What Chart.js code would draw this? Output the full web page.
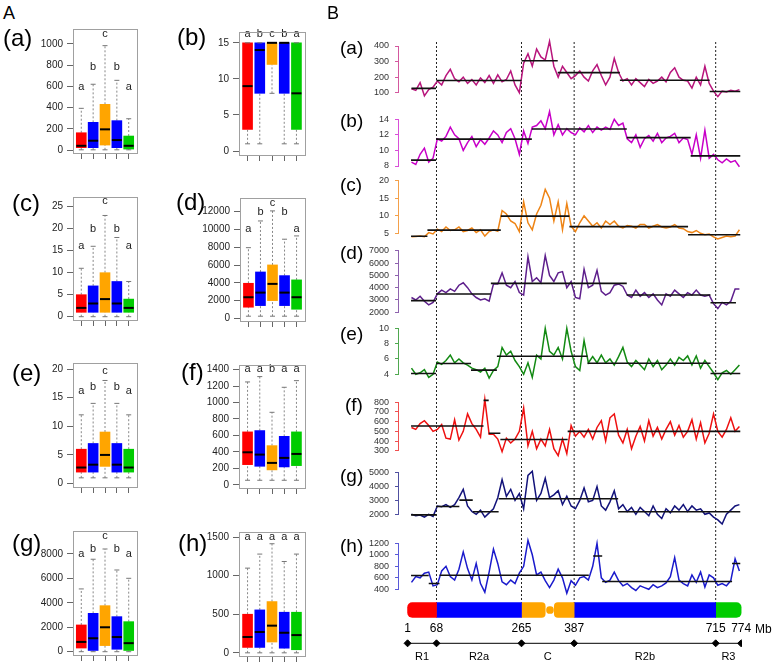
<!DOCTYPE html>
<html>
<head>
<meta charset="utf-8">
<script src="https://cdn.jsdelivr.net/npm/chart.js@4.4.1/dist/chart.umd.min.js"></script>
<style>
body { margin: 0; background: #fff; width: 778px; height: 663px; overflow: hidden; position: relative; font-family: "Liberation Sans", Arial, sans-serif; }
.lbl { position: absolute; color: #000; line-height: 1; white-space: nowrap; z-index: 5; }
</style>
</head>
<body>
<script>
// ---------- A: box plots (red R1, blue R2a, orange C, blue R2b, green R3) ----------
const boxColors = ['#ff0000', '#0000ff', '#ffa500', '#0000ff', '#00cc00'];

const aTicks = [0, 200, 400, 600, 800, 1000];
const aLow = [2, 2, 2, 2, 2], aQ1 = [22, 22, 47, 22, 9], aMed = [40, 88, 195, 94, 40];
const aQ3 = [163, 261, 431, 277, 132], aHigh = [393, 620, 984, 657, 295];
const aLetters = ['a', 'b', 'c', 'b', 'a'], aLetterY = [591, 786, 1094, 786, 591];

const bTicks = [0, 5, 10, 15];
const bLow = [1, 1, 8, 1, 1], bQ1 = [3, 8, 12, 8, 3], bMed = [9, 14, 15, 15, 8];
const bQ3 = [15, 15, 15, 15, 15], bHigh = [15, 15, 15, 15, 15];
const bLetters = ['a', 'b', 'c', 'b', 'a'], bLetterY = [16.2, 16.2, 16.2, 16.2, 16.2];

const cTicks = [0, 5, 10, 15, 20, 25];
const cLow = [0, 0, 0, 0, 0], cQ1 = [1, 1, 1, 1, 1], cMed = [2, 3, 4, 3, 2];
const cQ3 = [5, 7, 10, 8, 4], cHigh = [11, 16, 23, 18, 8];
const cLetters = ['a', 'b', 'c', 'b', 'a'], cLetterY = [16.1, 20, 26.3, 20, 16.1];

const dTicks = [0, 2000, 4000, 6000, 8000, 10000, 12000];
const dLow = [250, 250, 250, 250, 250], dQ1 = [1260, 1440, 2000, 1440, 1030], dMed = [2380, 2900, 3880, 2900, 2380];
const dQ3 = [3950, 5220, 6010, 4810, 4330], dHigh = [7950, 10950, 12080, 8900, 9270];
const dLetters = ['a', 'b', 'c', 'b', 'a'], dLetterY = [10020, 12000, 13000, 12000, 10020];

const eTicks = [0, 5, 10, 15, 20];
const eLow = [1, 1, 1, 1, 1], eQ1 = [2, 2, 3, 2, 2], eMed = [2.8, 3.3, 5, 3.3, 2.8];
const eQ3 = [6, 7, 9, 7, 6], eHigh = [12, 14, 18, 14, 12];
const eLetters = ['a', 'b', 'c', 'b', 'a'], eLetterY = [16.1, 16.9, 19.7, 16.9, 16.1];

const fTicks = [0, 200, 400, 600, 800, 1000, 1200, 1400];
const fLow = [55, 55, 55, 55, 55], fQ1 = [245, 225, 181, 217, 233], fMed = [395, 367, 266, 327, 375];
const fQ3 = [643, 659, 476, 589, 643], fHigh = [1250, 1315, 881, 1185, 1266];
const fLetters = ['a', 'a', 'b', 'a', 'a'], fLetterY = [1403, 1403, 1403, 1403, 1403];

const gTicks = [0, 2000, 4000, 6000, 8000];
const gLow = [0, 0, 0, 0, 0], gQ1 = [300, 100, 500, 200, 100], gMed = [800, 1100, 2000, 1200, 700];
const gQ3 = [2190, 3140, 3770, 2870, 2460], gHigh = [5140, 7570, 8410, 6690, 6010];
const gLetters = ['a', 'b', 'c', 'b', 'a'], gLetterY = [7980, 8390, 9480, 8390, 7980];

const hTicks = [0, 500, 1000, 1500];
const hLow = [0, 0, 0, 0, 0], hQ1 = [70, 70, 140, 60, 40], hMed = [205, 270, 352, 260, 230];
const hQ3 = [500, 556, 664, 526, 526], hHigh = [1097, 1279, 1413, 1183, 1279];
const hLetters = ['a', 'a', 'a', 'a', 'a'], hLetterY = [1500, 1500, 1500, 1500, 1500];

// ---------- B: sliding-window profiles along the chromosome (Mb) ----------
const mbPos = [10, 20, 30, 40, 50, 60, 70, 80, 90, 100, 110, 120, 130, 140, 150, 160, 170, 180, 190, 200,
  210, 220, 230, 240, 250, 260, 270, 280, 290, 300, 310, 320, 330, 340, 350, 360, 370, 380, 390, 400,
  410, 420, 430, 440, 450, 460, 470, 480, 490, 500, 510, 520, 530, 540, 550, 560, 570, 580, 590, 600,
  610, 620, 630, 640, 650, 660, 670, 680, 690, 700, 710, 720, 730, 740, 750, 760, 770];

const lineA = [125, 115, 165, 80, 120, 135, 175, 150, 210, 250, 190, 170, 200, 160, 185, 150, 195, 165, 210, 160,
  215, 170, 185, 240, 150, 100, 290, 350, 270, 380, 330, 310, 430, 270, 200, 270, 230, 190, 210, 240,
  200, 175, 240, 280, 210, 150, 200, 320, 230, 175, 190, 150, 190, 165, 140, 185, 160, 175, 200, 170,
  230, 260, 200, 180, 175, 130, 200, 150, 270, 160, 110, 75, 110, 105, 115, 110, 120];
const lineB = [8.5, 8.2, 9.5, 10.3, 8.5, 9.0, 11.5, 11.2, 11.8, 13.0, 12.0, 11.5, 10.0, 11.0, 11.8, 10.5, 11.4, 10.8, 11.6, 12.5,
  12.0, 11.0, 12.3, 12.8, 11.5, 9.5, 12.5, 10.9, 13.0, 13.2, 13.8, 12.8, 15.0, 12.0, 13.3, 12.0, 12.8, 12.3, 12.0, 12.9,
  12.4, 13.2, 12.3, 13.0, 12.6, 13.0, 12.7, 14.0, 13.2, 13.5, 11.5, 11.0, 12.0, 10.4, 11.5, 11.9, 11.2, 12.2, 11.0, 11.6,
  11.8, 12.2, 11.0, 11.6, 11.4, 9.5, 12.0, 9.0, 12.6, 9.0, 9.5, 8.8, 8.4, 8.9, 8.5, 8.7, 7.9];
const lineC = [4.0, 4.1, 4.2, 4.0, 5.2, 4.8, 6.2, 5.5, 6.8, 5.8, 6.0, 6.8, 5.5, 5.8, 6.5, 5.2, 6.0, 4.2, 5.5, 6.0,
  5.6, 11.5, 10.5, 8.5, 7.8, 5.5, 14.0, 8.0, 6.0, 10.5, 13.0, 17.5, 15.0, 8.5, 14.0, 6.0, 13.5, 7.0, 5.5, 8.0,
  10.0, 8.5, 7.0, 8.0, 6.5, 8.5, 7.5, 8.5, 7.0, 6.5, 7.2, 7.0, 6.5, 7.5, 7.5, 6.5, 7.0, 7.5, 6.8, 6.5,
  6.8, 7.5, 6.5, 6.3, 5.5, 5.2, 5.8, 5.0, 4.6, 4.8, 4.0, 3.4, 3.8, 4.2, 4.0, 4.2, 6.0];
const lineD = [3200, 3000, 3300, 2900, 2600, 2800, 3500, 3800, 3600, 3900, 3700, 4200, 4400, 4000, 3500, 3200, 3000, 3100, 2900, 4300,
  4300, 5200, 4200, 4000, 4500, 3600, 3400, 6500, 4500, 4800, 4400, 6600, 5000, 4500, 5200, 5300, 4000, 4500, 3200, 3100,
  5500, 4000, 4200, 5400, 3700, 3400, 3600, 4200, 4300, 4100, 3400, 3200, 3800, 3300, 3600, 3200, 3500, 3000, 2600, 3500,
  3300, 3800, 3500, 3200, 3600, 3400, 3800, 3400, 3300, 3400, 2700, 2300, 2800, 2600, 2900, 3900, 3900];
const lineE = [4.8, 4.0, 4.2, 4.6, 3.6, 4.0, 5.6, 5.3, 5.8, 6.5, 5.5, 6.0, 5.5, 5.2, 4.8, 4.6, 4.3, 4.8, 3.5, 4.5,
  5.0, 7.5, 6.5, 7.0, 5.8, 5.0, 4.0, 5.5, 3.6, 6.5, 6.0, 10.0, 7.0, 6.5, 7.5, 6.0, 10.0, 7.0, 5.0, 4.5,
  8.4, 5.5, 6.3, 5.5, 6.5, 5.5, 6.0, 5.2, 6.3, 7.5, 5.6, 5.0, 5.8, 5.2, 4.6, 6.0, 5.0, 5.8, 4.6, 5.2,
  6.0, 5.2, 6.2, 5.8, 6.4, 5.2, 6.4, 4.8, 5.8, 5.0, 4.2, 3.3, 4.2, 4.5, 4.0, 4.6, 5.2];
const lineF = [540, 520, 580, 610, 560, 500, 520, 570, 430, 420, 620, 410, 500, 680, 580, 520, 440, 830, 470, 470,
  420, 290, 430, 380, 420, 500, 740, 350, 500, 320, 420, 350, 520, 320, 250, 420, 270, 560, 450, 500,
  440, 520, 420, 540, 610, 400, 640, 680, 460, 380, 520, 320, 450, 550, 400, 610, 450, 540, 420, 520,
  600, 460, 560, 440, 500, 620, 420, 590, 380, 480, 680, 500, 440, 520, 640, 500, 550];
const lineG = [2000, 1900, 1950, 1800, 2000, 1850, 2600, 2550, 2700, 2500, 2700, 3200, 3800, 2600, 2200, 2000, 2300, 1800, 2100, 2400,
  3200, 4500, 3300, 3800, 3000, 3500, 2400, 4800, 5100, 3000, 3500, 4600, 3200, 3400, 3700, 2700, 3300, 2600, 2400, 3000,
  3900, 2900, 3000, 4000, 2600, 2300, 2900, 3700, 2400, 2700, 2200, 2500, 2000, 2500, 2200, 1900, 2600, 2000, 1700, 2400,
  2100, 2600, 2300, 2700, 2200, 2600, 2300, 2400, 2000, 2100, 1800, 1600, 1300, 2000, 2300, 2600, 2700];
const lineH = [520, 620, 600, 680, 700, 460, 480, 720, 800, 620, 560, 750, 1050, 760, 560, 850, 500, 350, 700, 1100,
  850, 530, 480, 560, 500, 680, 800, 1250, 1000, 650, 700, 550, 430, 560, 750, 600, 330, 550, 470, 600,
  620, 560, 800, 1200, 600, 520, 560, 700, 550, 460, 500, 430, 380, 460, 430, 400, 480, 430, 460, 510,
  620, 950, 560, 500, 460, 650, 520, 700, 440, 650, 600, 470, 500, 460, 550, 930, 720];

// segment means: [start Mb, end Mb, level]
const meanA = [[10, 67, 128], [68, 265, 178], [265, 349, 305], [349, 493, 229], [493, 701, 180], [701, 772, 108]];
const meanB = [[9, 67, 8.75], [67, 289, 11.45], [289, 509, 12.75], [509, 657, 11.65], [657, 772, 9.3]];
const meanC = [[9, 47, 4.15], [47, 217, 5.9], [217, 376, 9.9], [376, 651, 6.9], [651, 772, 4.6]];
const meanD = [[9, 67, 2950], [67, 194, 3490], [194, 509, 4350], [509, 703, 3400], [703, 762, 2780]];
const meanE = [[9, 67, 4.1], [67, 148, 5.4], [148, 208, 4.55], [208, 418, 6.35], [418, 703, 5.45], [703, 772, 4.1]];
const meanF = [[9, 177, 555], [177, 189, 820], [189, 216, 480], [216, 372, 415], [372, 772, 500]];
const meanG = [[9, 67, 1960], [67, 121, 2560], [121, 152, 3020], [152, 212, 2180], [212, 489, 3120], [489, 772, 2180]];
const meanH = [[9, 50, 640], [50, 75, 500], [75, 421, 645], [431, 452, 980], [452, 753, 535], [753, 772, 850]];

const ticksA = [100, 200, 300, 400];
const ticksB = [8, 10, 12, 14];
const ticksC = [5, 10, 15, 20];
const ticksD = [2000, 3000, 4000, 5000, 6000, 7000];
const ticksE = [4, 6, 8, 10];
const ticksF = [300, 400, 500, 600, 700, 800];
const ticksG = [2000, 3000, 4000, 5000];
const ticksH = [400, 600, 800, 1000, 1200];

// chromosome regions
const boundaries = [1, 68, 265, 387, 715, 774];
const regionNames = ['R1', 'R2a', 'C', 'R2b', 'R3'];

Chart.defaults.font.family = '"Liberation Sans", Arial, sans-serif';
Chart.defaults.animation = false;

function addCanvas(left, top, w, h, z) {
  const c = document.createElement('canvas');
  c.width = w; c.height = h;
  c.style.cssText = `position:absolute;left:${left}px;top:${top}px;width:${w}px;height:${h}px;z-index:${z || 1}`;
  document.body.appendChild(c);
  return c;
}

function addLabel(text, left, centerY, size) {
  const d = document.createElement('div');
  d.className = 'lbl';
  d.textContent = text;
  d.style.left = left + 'px';
  d.style.top = (centerY - size / 2) + 'px';
  d.style.fontSize = size + 'px';
  document.body.appendChild(d);
}

const framePlugin = {
  id: 'frame',
  afterDraw(chart) {
    const { ctx, chartArea: a } = chart;
    ctx.save();
    ctx.strokeStyle = '#a0a0a0';
    ctx.lineWidth = 1;
    ctx.strokeRect(Math.round(a.left) + 0.5, Math.round(a.top) + 0.5, Math.round(a.right - a.left), Math.round(a.bottom - a.top));
    ctx.restore();
  }
};

function lettersPlugin(letters, ys) {
  return {
    id: 'letters',
    afterDatasetsDraw(chart) {
      const { ctx, scales: { x, y } } = chart;
      ctx.save();
      ctx.fillStyle = '#222';
      ctx.font = '11px "Liberation Sans", Arial, sans-serif';
      ctx.textAlign = 'center';
      ctx.textBaseline = 'middle';
      letters.forEach((t, i) => ctx.fillText(t, x.getPixelForValue(i + 1), y.getPixelForValue(ys[i])));
      ctx.restore();
    }
  };
}

// frame = [left, top, right, bottom] in page pixels, range = y axis limits of the frame
function boxPlot(frame, range, ticks, lo, q1, med, q3, hi, letters, letterY) {
  const [fl, ft, fr, fb] = frame;
  const left = fl - 55, top = ft - 12, w = fr - left + 6, h = fb - top + 14;
  const xs = [1, 2, 3, 4, 5];
  const whiskers = [], caps = [];
  xs.forEach((x, i) => {
    whiskers.push({ x, y: lo[i] }, { x, y: q1[i] }, { x, y: null });
    whiskers.push({ x, y: q3[i] }, { x, y: hi[i] }, { x, y: null });
    caps.push({ x, y: lo[i] }, { x, y: hi[i] });
  });
  new Chart(addCanvas(left, top, w, h), {
    type: 'bar',
    data: {
      datasets: [
        { type: 'bar', data: xs.map((x, i) => ({ x, y: [q1[i], q3[i]] })), backgroundColor: boxColors,
          borderWidth: 0, barThickness: 10, grouped: false, order: 3 },
        { type: 'line', data: whiskers, borderColor: '#888', borderDash: [2, 2], borderWidth: 1,
          pointRadius: 0, order: 4 },
        { type: 'scatter', data: caps, pointStyle: 'line', pointRadius: 2.5, pointBorderColor: '#777',
          pointBorderWidth: 1, order: 2 },
        { type: 'scatter', data: xs.map((x, i) => ({ x, y: med[i] })), pointStyle: 'line', pointRadius: 5,
          pointBorderColor: '#000', pointBorderWidth: 2, order: 1 }
      ]
    },
    options: {
      responsive: false, devicePixelRatio: 1,
      layout: { padding: { left: 0, top: ft - top, right: left + w - fr, bottom: h - (fb - top) - 8 } },
      plugins: { legend: { display: false }, tooltip: { enabled: false } },
      scales: {
        x: { type: 'linear', min: 0.3, max: 5.7, offset: false,
          afterBuildTicks: s => { s.ticks = xs.map(v => ({ value: v })); },
          afterFit: s => { s.height = 8; },
          ticks: { display: false },
          grid: { drawOnChartArea: false, offset: false, tickLength: 6, color: '#666' },
          border: { display: false } },
        y: { type: 'linear', min: range[0], max: range[1],
          afterBuildTicks: s => { s.ticks = ticks.map(v => ({ value: v })); },
          afterFit: s => { s.width = fl - left; },
          ticks: { color: '#222', font: { size: 10 }, padding: 4, autoSkip: false, callback: v => String(v) },
          grid: { drawOnChartArea: false, tickLength: 6, color: '#666' },
          border: { display: false } }
      }
    },
    plugins: [framePlugin, lettersPlugin(letters, letterY)]
  });
}

boxPlot([73, 29, 138, 153], [-28, 1141], aTicks, aLow, aQ1, aMed, aQ3, aHigh, aLetters, aLetterY);
boxPlot([239, 32, 306, 155], [-0.55, 16.5], bTicks, bLow, bQ1, bMed, bQ3, bHigh, bLetters, bLetterY);
boxPlot([73, 197, 138, 320], [-0.75, 27.2], cTicks, cLow, cQ1, cMed, cQ3, cHigh, cLetters, cLetterY);
boxPlot([240, 198, 306, 321], [-290, 13530], dTicks, dLow, dQ1, dMed, dQ3, dHigh, dLetters, dLetterY);
boxPlot([73, 363, 138, 487], [-0.6, 21.05], eTicks, eLow, eQ1, eMed, eQ3, eHigh, eLetters, eLetterY);
boxPlot([239, 365, 306, 488], [-39, 1456], fTicks, fLow, fQ1, fMed, fQ3, fHigh, fLetters, fLetterY);
boxPlot([73, 531, 138, 655], [-270, 9883], gTicks, gLow, gQ1, gMed, gQ3, gHigh, gLetters, gLetterY);
boxPlot([239, 532, 306, 656], [-41, 1565], hTicks, hLow, hQ1, hMed, hQ3, hHigh, hLetters, hLetterY);

// ---------- B panels ----------
const X_MIN = -21.2, X_MAX = 776;   // axis line at page x 398, right end 742

function linePanel(vals, means, ticks, tickTop, tickBottom, color, axisColor) {
  const top = Math.floor(tickTop) - 30, h = Math.ceil(tickBottom) + 30 - top;
  const meanData = [];
  means.forEach(([s, e, v]) => meanData.push({ x: s, y: v }, { x: e, y: v }, { x: e, y: null }));
  new Chart(addCanvas(340, top, 438, h, 2), {
    type: 'line',
    data: {
      datasets: [
        { data: mbPos.map((x, i) => ({ x, y: vals[i] })), borderColor: color, borderWidth: 1.5,
          pointRadius: 0, tension: 0, clip: false, order: 2 },
        { data: meanData, borderColor: '#111', borderWidth: 1.6, pointRadius: 0, clip: false, order: 1 }
      ]
    },
    options: {
      responsive: false, devicePixelRatio: 1,
      layout: { padding: { left: 0, right: 36, top: tickTop - top, bottom: h - (tickBottom - top) } },
      plugins: { legend: { display: false }, tooltip: { enabled: false } },
      scales: {
        x: { type: 'linear', min: X_MIN, max: X_MAX, display: false },
        y: { type: 'linear', min: ticks[0], max: ticks[ticks.length - 1],
          afterBuildTicks: s => { s.ticks = ticks.map(v => ({ value: v })); },
          afterFit: s => { s.width = 58; },
          ticks: { color: '#333', font: { size: 9 }, padding: 6, autoSkip: false, callback: v => String(v) },
          grid: { drawOnChartArea: false, tickLength: 3, color: axisColor },
          border: { color: axisColor, width: 1 } }
      }
    }
  });
}

linePanel(lineA, meanA, ticksA, 46, 92.7, '#b8157c', '#d4589f');
linePanel(lineB, meanB, ticksB, 119.3, 166, '#c800c8', '#d84fd8');
linePanel(lineC, meanC, ticksC, 180.7, 233.3, '#ee8415', '#f4a04a');
linePanel(lineD, meanD, ticksD, 250.7, 312.3, '#5e1f8c', '#8e63ae');
linePanel(lineE, meanE, ticksE, 328.3, 374.3, '#138a13', '#4fa84f');
linePanel(lineF, meanF, ticksF, 402.3, 450.7, '#ee1010', '#f05050');
linePanel(lineG, meanG, ticksG, 472.7, 514.3, '#12127a', '#5050a0');
linePanel(lineH, meanH, ticksH, 543.3, 589.3, '#1a1acc', '#5a5ad8');

// ---------- region borders and Mb scale ----------
// y of this chart counts pixels up from the page bottom (663)
const BAR_TOP = 60, DOT_TOP = 621, ARROW_Y = 19.7, NUM_Y = 34, REG_Y = 6.5;

const dotted = [];
boundaries.slice(1, 5).forEach(b => dotted.push({ x: b, y: DOT_TOP }, { x: b, y: BAR_TOP }, { x: b, y: null }));

const scaleTextPlugin = {
  id: 'scaleText',
  afterDatasetsDraw(chart) {
    const { ctx, scales: { x, y } } = chart;
    ctx.save();
    ctx.fillStyle = '#000';
    ctx.textAlign = 'center';
    ctx.textBaseline = 'middle';
    ctx.font = '12px "Liberation Sans", Arial, sans-serif';
    boundaries.forEach(b => ctx.fillText(String(b), x.getPixelForValue(b), y.getPixelForValue(NUM_Y)));
    ctx.font = '11px "Liberation Sans", Arial, sans-serif';
    regionNames.forEach((r, i) => ctx.fillText(r, x.getPixelForValue((boundaries[i] + boundaries[i + 1]) / 2), y.getPixelForValue(REG_Y)));
    ctx.restore();
  }
};

new Chart(addCanvas(340, 30, 438, 633, 1), {
  type: 'line',
  data: {
    datasets: [
      { data: dotted, borderColor: '#222', borderWidth: 1, borderDash: [2, 2], pointRadius: 0 },
      { data: boundaries.map(b => ({ x: b, y: ARROW_Y })), borderColor: '#000', borderWidth: 1,
        pointStyle: 'rectRot', pointRadius: 3.5, pointBackgroundColor: '#000', pointBorderColor: '#000' }
    ]
  },
  options: {
    responsive: false, devicePixelRatio: 1,
    layout: { padding: { left: 58, right: 36, top: 12, bottom: 0 }, autoPadding: false },
    plugins: { legend: { display: false }, tooltip: { enabled: false } },
    scales: {
      x: { type: 'linear', min: X_MIN, max: X_MAX, display: false, offset: false },
      y: { type: 'linear', min: 0, max: 621, display: false, offset: false }
    }
  },
  plugins: [scaleTextPlugin]
});

// ---------- chromosome bar ----------
const chromPieces = [
  { r: [1, 68], c: '#ff0000', rad: { topLeft: 5, bottomLeft: 5, topRight: 0, bottomRight: 0 } },
  { r: [68, 265], c: '#0000ff', rad: 0 },
  { r: [265, 320], c: '#ffa500', rad: { topLeft: 0, bottomLeft: 0, topRight: 4, bottomRight: 4 } },
  { r: [323, 339], c: '#ffa500', rad: 4, t: 7 },
  { r: [341, 387], c: '#ffa500', rad: { topLeft: 4, bottomLeft: 4, topRight: 0, bottomRight: 0 } },
  { r: [387, 715], c: '#0000ff', rad: 0 },
  { r: [715, 774], c: '#00cc00', rad: { topLeft: 0, bottomLeft: 0, topRight: 5, bottomRight: 5 } }
];

new Chart(addCanvas(340, 599, 438, 22, 3), {
  type: 'bar',
  data: {
    labels: ['chr'],
    datasets: chromPieces.map(p => ({
      data: [p.r], backgroundColor: p.c, barThickness: p.t || 15, grouped: false,
      borderSkipped: false, borderRadius: p.rad, borderWidth: 0
    }))
  },
  options: {
    indexAxis: 'y',
    responsive: false, devicePixelRatio: 1,
    layout: { padding: { left: 58, right: 36, top: 0, bottom: 0 } },
    plugins: { legend: { display: false }, tooltip: { enabled: false } },
    scales: {
      x: { type: 'linear', min: X_MIN, max: X_MAX, display: false },
      y: { display: false }
    }
  }
});

// ---------- text labels ----------
addLabel('A', 3, 13, 18);
addLabel('B', 327, 13, 18);
addLabel('(a)', 3, 38, 24);
addLabel('(b)', 177, 37, 24);
addLabel('(c)', 12, 203, 24);
addLabel('(d)', 176, 202, 24);
addLabel('(e)', 12, 373, 24);
addLabel('(f)', 181, 372, 24);
addLabel('(g)', 12, 543, 24);
addLabel('(h)', 178, 543, 24);

addLabel('(a)', 340, 47, 19);
addLabel('(b)', 340, 120, 19);
addLabel('(c)', 340, 184, 19);
addLabel('(d)', 340, 252, 19);
addLabel('(e)', 340, 333, 19);
addLabel('(f)', 345, 404, 19);
addLabel('(g)', 340, 475, 19);
addLabel('(h)', 340, 545, 19);
addLabel('Mb', 755, 629, 12);
</script>
</body>
</html>
